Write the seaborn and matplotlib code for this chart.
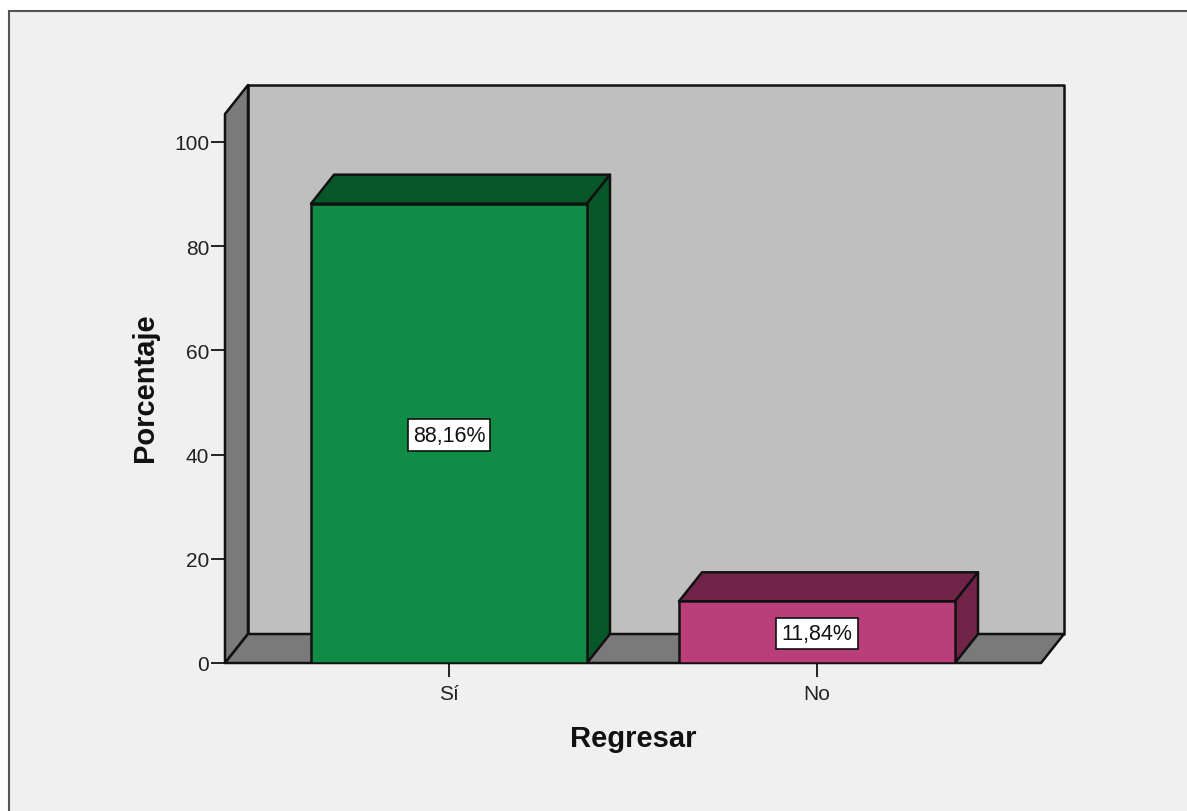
import matplotlib
matplotlib.use("Agg")
import matplotlib.pyplot as plt
import seaborn as sns
import pandas as pd
from matplotlib.patches import Polygon, Rectangle

categories = ["Sí", "No"]
values = [88.16, 11.84]
labels = ["88,16%", "11,84%"]
colors = ["#108c47", "#b93e7a"]
tops = ["#085728", "#702548"]
sides = ["#085728", "#702548"]
yticks = [0, 20, 40, 60, 80, 100]

sns.set_theme(style="white")
plt.rcParams["font.family"] = ["Liberation Sans", "DejaVu Sans"]

W, H = 1187, 812
fig = plt.figure(figsize=(W / 100, H / 100), dpi=100, facecolor="white")
fig.add_artist(Rectangle((9.5 / W, 1 - 830 / H), 1200 / W, 818.5 / H, transform=fig.transFigure,
                         fc="#f0f0f0", ec="#555555", lw=1.5, zorder=-1))
L, R, T, B = 225, 1041, 115, 664
ax = fig.add_axes([L / W, 1 - B / H, (R - L) / W, (B - T) / H])
ax.set_facecolor("none")

df = pd.DataFrame({"Regresar": categories, "Porcentaje": values})
sns.barplot(data=df, x="Regresar", y="Porcentaje", hue="Regresar", palette=colors, legend=False,
            width=0.75, saturation=1, edgecolor="#111111", linewidth=1.8, ax=ax, zorder=5)

xmin, xmax = (L - 449) / 368, (R - 449) / 368
ymax = (B - T) / 5.21
ax.set_xlim(xmin, xmax)
ax.set_ylim(0, ymax)
dx, dy = 23 / 368, 29 / 5.21

def poly(pts, fc, z):
    ax.add_patch(Polygon(pts, closed=True, fc=fc, ec="#111111", lw=1.8, clip_on=False, zorder=z,
                         joinstyle="round"))

# walls
poly([(xmin + dx, dy), (xmax + dx, dy), (xmax + dx, ymax + dy), (xmin + dx, ymax + dy)], "#bfbfbf", 1)
poly([(xmin, 0), (xmin + dx, dy), (xmin + dx, ymax + dy), (xmin, ymax)], "#7a7a7a", 2)
poly([(xmin, 0), (xmax, 0), (xmax + dx, dy), (xmin + dx, dy)], "#7a7a7a", 2)

# bar depth faces
for i, v in enumerate(values):
    l, r = i - 0.375, i + 0.375
    poly([(l, v), (r, v), (r + dx, v + dy), (l + dx, v + dy)], tops[i], 4)
    poly([(r, 0), (r + dx, dy), (r + dx, v + dy), (r, v)], sides[i], 4)
    ax.annotate(labels[i], xy=(i, v / 2), xytext=(0, -1.2), textcoords="offset points",
                ha="center", va="center", fontsize=15.5, color="#111111", zorder=7,
                bbox=dict(boxstyle="square,pad=0.24", fc="white", ec="#111111", lw=1.2))

for s in ["top", "right", "left", "bottom"]:
    ax.spines[s].set_visible(False)
ax.set_yticks(yticks)
ax.set_yticklabels([str(t) for t in yticks])
ax.tick_params(axis="both", length=10.3, width=1.4, color="#222222", labelsize=15, labelcolor="#222222", pad=1,
               left=True, bottom=True)
ax.tick_params(axis="x", pad=5)
ax.set_xlabel("Regresar", fontsize=21, fontweight="bold", color="#111111", labelpad=15)
ax.set_ylabel("Porcentaje", fontsize=21, fontweight="bold", color="#111111", labelpad=11)
ax.yaxis.label.set_y(0.504)
fig.savefig("out.png", dpi=100, facecolor=fig.get_facecolor())
